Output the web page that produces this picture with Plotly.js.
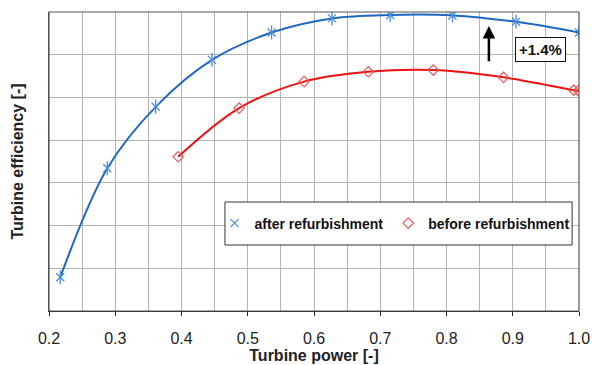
<!DOCTYPE html>
<html>
<head>
<meta charset="utf-8">
<script src="https://cdn.plot.ly/plotly-3.0.1.min.js"></script>
<style>html,body{margin:0;padding:0;background:#fff;}#chart{width:592px;height:365px;}</style>
</head>
<body>
<div id="chart"></div>
<script>
// Data (efficiency in grid units, no absolute scale shown)
const afterPower = [0.217, 0.288, 0.361, 0.446, 0.536, 0.627, 0.715, 0.809, 0.905, 1.000];
const afterEff   = [0.79, 3.34, 4.78, 5.88, 6.52, 6.85, 6.93, 6.92, 6.77, 6.52];
const beforePower = [0.395, 0.487, 0.585, 0.682, 0.780, 0.886, 0.992, 0.999];
const beforeEff   = [3.61, 4.75, 5.37, 5.60, 5.64, 5.47, 5.17, 5.16];
const xTickVals = [0.2, 0.3, 0.4, 0.5, 0.6, 0.7, 0.8, 0.9, 1.0];
const xTickText = ['0.2', '0.3', '0.4', '0.5', '0.6', '0.7', '0.8', '0.9', '1.0'];
const seriesNames = ['after refurbishment', 'before refurbishment'];
const gainLabel = '+1.4%';

const blueLine = '#1f68c2';
const blueMark = '#4a8fdc';
const redLine = '#f01010';
const redMark = '#e8585c';
const font = 'Liberation Sans, Arial, sans-serif';

const traces = [
  {x: afterPower, y: afterEff, mode: 'lines', line: {shape: 'spline', smoothing: 1.0, color: blueLine, width: 2}, showlegend: false, hoverinfo: 'skip'},
  {x: beforePower, y: beforeEff, mode: 'lines', line: {shape: 'spline', smoothing: 1.0, color: redLine, width: 2}, showlegend: false, hoverinfo: 'skip'},
  {x: afterPower, y: afterEff, mode: 'markers', name: seriesNames[0],
   marker: {symbol: 'x-thin-open', size: 8, line: {color: blueMark, width: 1.3}, color: blueMark}},
  {x: afterPower, y: afterEff, mode: 'markers', showlegend: false,
   marker: {symbol: 'line-ns-open', size: 10, line: {color: blueMark, width: 1.3}, color: blueMark}},
  {x: beforePower, y: beforeEff, mode: 'markers', name: seriesNames[1],
   marker: {symbol: 'diamond-open', size: 8, line: {color: redMark, width: 1.2}, color: redMark}}
];

const layout = {
  width: 592, height: 365,
  margin: {l: 49, r: 13, t: 12, b: 54},
  paper_bgcolor: '#fff', plot_bgcolor: '#fff',
  font: {family: font, size: 16, color: '#222'},
  xaxis: {
    range: [0.2, 1.0], tickvals: xTickVals, ticktext: xTickText,
    ticks: 'outside', ticklen: 4, tickcolor: '#222', tickwidth: 1, ticklabelstandoff: 9,
    showline: true, linecolor: '#222', linewidth: 1, mirror: false,
    showgrid: true, gridcolor: '#b4b4b4', gridwidth: 1, zeroline: false,
    minor: {dtick: 0.05, tick0: 0.2, showgrid: true, gridcolor: '#b4b4b4', gridwidth: 1, ticks: ''},
    tickfont: {family: font, size: 16, color: '#222'},
    title: {text: '<b>Turbine power [-]</b>', font: {family: font, size: 16, color: '#222'}, standoff: 3}
  },
  yaxis: {
    range: [0, 7], dtick: 1, showticklabels: false, ticks: '',
    showline: true, linecolor: '#555', linewidth: 1, mirror: false,
    showgrid: true, gridcolor: '#b4b4b4', gridwidth: 1, zeroline: false,
    title: {text: '<b>Turbine efficiency [-]</b>', font: {family: font, size: 16, color: '#222'}, standoff: 20}
  },
  shapes: [
    {type: 'rect', xref: 'paper', yref: 'paper', x0: 0, x1: 1, y0: 0, y1: 1, line: {color: '#555', width: 1.2}, fillcolor: 'rgba(0,0,0,0)', layer: 'above'},
    {type: 'rect', xref: 'paper', yref: 'paper', x0: 0.332, x1: 0.987, y0: 0.2207, y1: 0.3645, line: {color: '#333', width: 1}, fillcolor: '#fff', layer: 'above'}
  ],
  legend: {
    orientation: 'h', x: 0.652, y: 0.2926, xanchor: 'center', yanchor: 'middle',
    bgcolor: 'rgba(0,0,0,0)', borderwidth: 0,
    font: {family: font, size: 14, color: '#111', weight: 'bold'},
    itemwidth: 30, tracegroupgap: 0
  },
  annotations: [
    {x: 0.864, y: 6.67, ax: 0.864, ay: 5.81, xref: 'x', yref: 'y', axref: 'x', ayref: 'y',
     text: '', showarrow: true, arrowhead: 2, arrowsize: 1, arrowwidth: 2.5, arrowcolor: '#000'},
    {x: 0.942, y: 6.12, xref: 'x', yref: 'y', text: '<b>' + gainLabel + '</b>', showarrow: false,
     font: {family: font, size: 15, color: '#111'}, bgcolor: '#fff', bordercolor: '#111', borderwidth: 1, borderpad: 3}
  ]
};

Plotly.newPlot('chart', traces, layout, {displayModeBar: false, staticPlot: true});
</script>
</body>
</html>
